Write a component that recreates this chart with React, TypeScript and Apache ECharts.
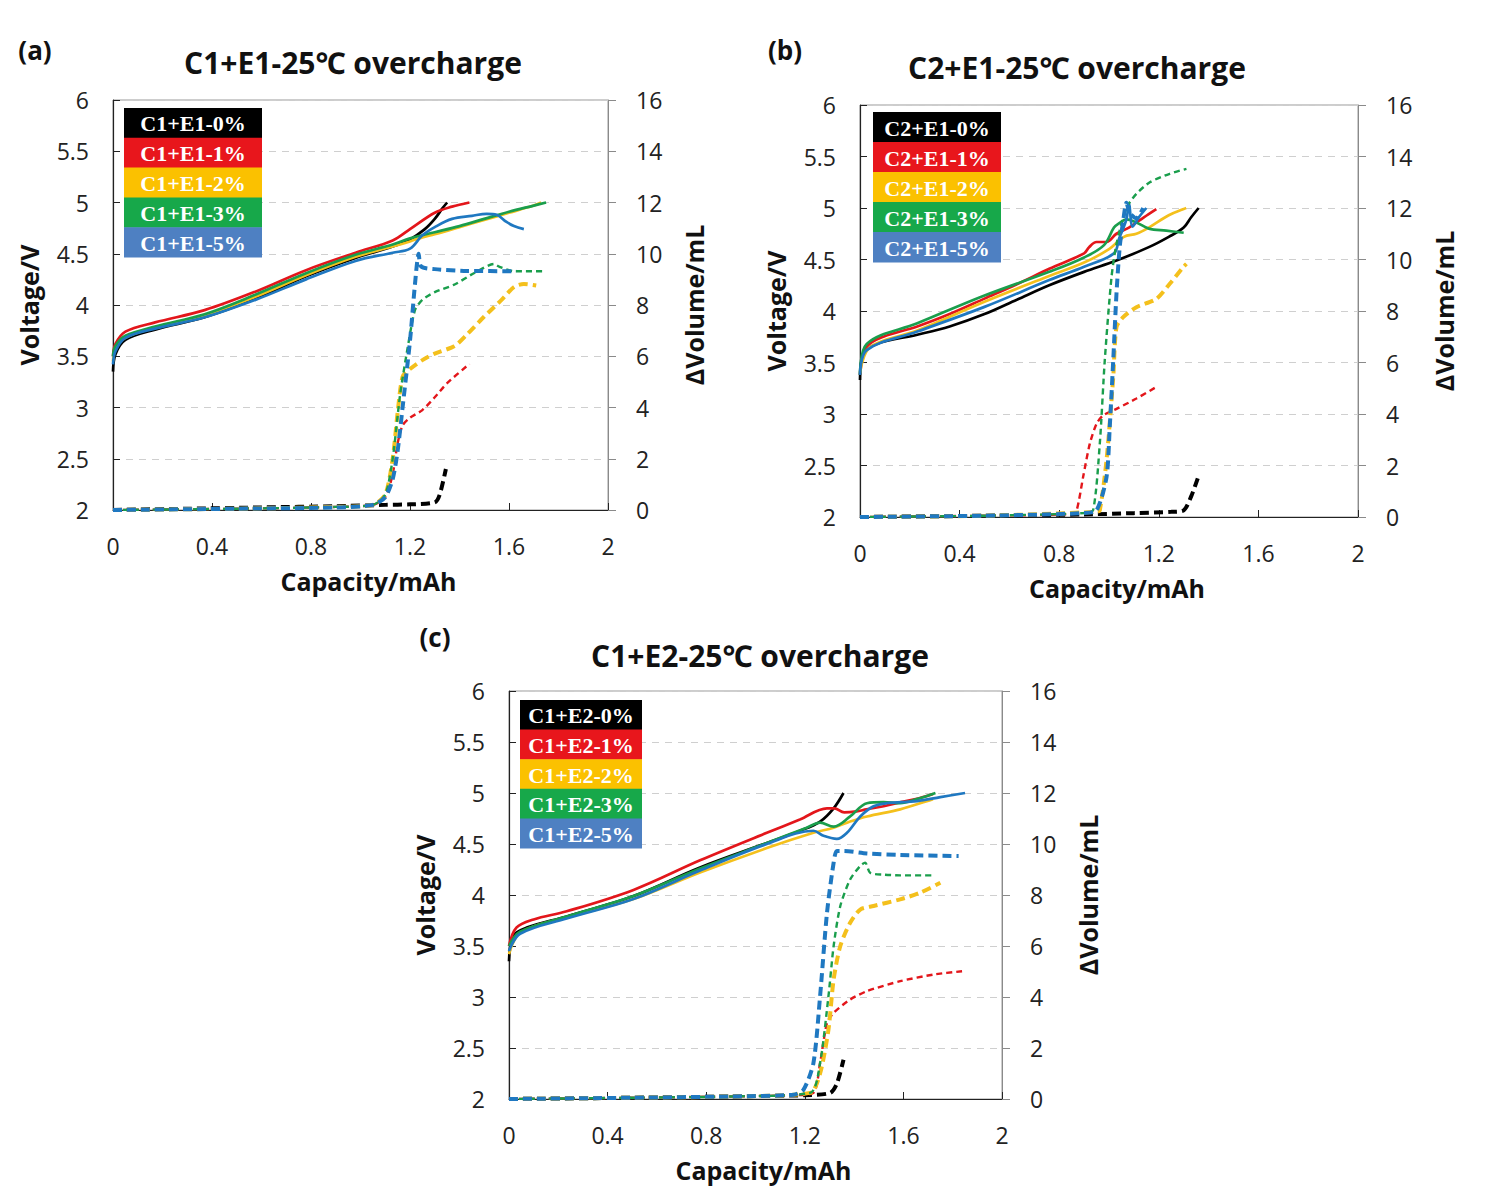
import React, { useEffect, useRef } from "react";
import * as echarts from "echarts";

// ---------- labels ----------
const panelTags = ["(a)", "(b)", "(c)"];
const panelTitles = ["C1+E1-25℃ overcharge", "C2+E1-25℃ overcharge", "C1+E2-25℃ overcharge"];
const legendA = ["C1+E1-0%", "C1+E1-1%", "C1+E1-2%", "C1+E1-3%", "C1+E1-5%"];
const legendB = ["C2+E1-0%", "C2+E1-1%", "C2+E1-2%", "C2+E1-3%", "C2+E1-5%"];
const legendC = ["C1+E2-0%", "C1+E2-1%", "C1+E2-2%", "C1+E2-3%", "C1+E2-5%"];
const xName = "Capacity/mAh";
const yLeftName = "Voltage/V";
const yRightName = "ΔVolume/mL";

// ---------- panel (a) voltage [capacity, V] ----------
const aV0 = [[0, 3.35], [0.01, 3.52], [0.05, 3.66], [0.17, 3.76], [0.37, 3.88], [0.575, 4.06], [0.78, 4.28], [0.98, 4.46], [1.13, 4.57], [1.2, 4.64], [1.26, 4.74], [1.3, 4.84], [1.33, 4.94], [1.35, 5.0]];
const aV1 = [[0, 3.5], [0.01, 3.62], [0.05, 3.74], [0.17, 3.83], [0.37, 3.95], [0.575, 4.13], [0.78, 4.34], [0.98, 4.51], [1.13, 4.63], [1.2, 4.74], [1.3, 4.9], [1.37, 4.96], [1.44, 5.0]];
const aV2 = [[0, 3.45], [0.01, 3.58], [0.05, 3.68], [0.17, 3.78], [0.37, 3.9], [0.575, 4.08], [0.78, 4.29], [0.98, 4.47], [1.13, 4.57], [1.2, 4.62], [1.25, 4.66], [1.3, 4.69], [1.4, 4.76], [1.5, 4.83], [1.6, 4.9], [1.7, 4.97], [1.73, 5.0]];
const aV3 = [[0, 3.5], [0.01, 3.6], [0.05, 3.7], [0.17, 3.79], [0.37, 3.91], [0.575, 4.1], [0.78, 4.31], [0.98, 4.49], [1.13, 4.59], [1.2, 4.65], [1.3, 4.71], [1.4, 4.77], [1.5, 4.84], [1.6, 4.91], [1.7, 4.97], [1.75, 5.0]];
const aV5 = [[0, 3.42], [0.01, 3.55], [0.05, 3.68], [0.17, 3.77], [0.37, 3.88], [0.575, 4.05], [0.78, 4.25], [0.98, 4.43], [1.13, 4.51], [1.2, 4.55], [1.25, 4.68], [1.3, 4.76], [1.37, 4.84], [1.45, 4.87], [1.51, 4.89], [1.55, 4.88], [1.59, 4.81], [1.62, 4.77], [1.66, 4.74]];
// ---------- panel (a) volume [capacity, mL] ----------
const aD0 = [[0, 0], [0.3, 0.05], [0.6, 0.1], [0.9, 0.15], [1.1, 0.2], [1.2, 0.22], [1.3, 0.3], [1.32, 0.6], [1.345, 1.6]];
const aD1 = [[0, 0], [0.5, 0.05], [0.9, 0.12], [1.05, 0.2], [1.1, 0.5], [1.13, 1.4], [1.15, 2.6], [1.17, 3.3], [1.2, 3.6], [1.25, 3.9], [1.3, 4.4], [1.35, 4.95], [1.44, 5.7]];
const aD2 = [[0, 0], [0.5, 0.05], [0.9, 0.12], [1.05, 0.2], [1.1, 0.6], [1.13, 2.0], [1.15, 3.8], [1.17, 5.2], [1.2, 5.5], [1.25, 5.85], [1.3, 6.1], [1.38, 6.4], [1.43, 6.85], [1.5, 7.55], [1.57, 8.2], [1.62, 8.7], [1.66, 8.82], [1.71, 8.76]];
const aD3 = [[0, 0], [0.5, 0.05], [0.9, 0.12], [1.05, 0.2], [1.1, 0.6], [1.13, 2.0], [1.16, 4.5], [1.19, 6.3], [1.22, 7.8], [1.25, 8.2], [1.3, 8.5], [1.38, 8.8], [1.46, 9.25], [1.54, 9.6], [1.56, 9.5], [1.62, 9.32], [1.74, 9.32]];
const aD5 = [[0, 0], [0.5, 0.05], [0.9, 0.1], [1.05, 0.2], [1.1, 0.5], [1.13, 1.2], [1.15, 2.3], [1.17, 4.0], [1.2, 6.6], [1.22, 8.8], [1.235, 10.0], [1.245, 9.5], [1.3, 9.4], [1.43, 9.33], [1.63, 9.32]];

// ---------- panel (b) voltage ----------
const bV0 = [[0, 3.33], [0.013, 3.58], [0.067, 3.68], [0.23, 3.77], [0.36, 3.85], [0.5, 3.97], [0.63, 4.11], [0.76, 4.25], [0.9, 4.38], [1.03, 4.49], [1.16, 4.62], [1.24, 4.72], [1.3, 4.81], [1.33, 4.91], [1.36, 5.0]];
const bV1 = [[0, 3.38], [0.027, 3.65], [0.094, 3.75], [0.23, 3.85], [0.36, 3.97], [0.5, 4.12], [0.63, 4.26], [0.76, 4.41], [0.9, 4.56], [0.92, 4.62], [0.95, 4.67], [0.99, 4.67], [1.03, 4.75], [1.08, 4.81], [1.14, 4.91], [1.19, 4.99]];
const bV2 = [[0, 3.4], [0.04, 3.65], [0.23, 3.81], [0.5, 4.09], [0.76, 4.34], [0.9, 4.47], [1.0, 4.6], [1.06, 4.72], [1.11, 4.75], [1.16, 4.81], [1.24, 4.93], [1.3, 4.99], [1.31, 5.0]];
const bV3 = [[0, 3.38], [0.027, 3.68], [0.23, 3.88], [0.5, 4.15], [0.76, 4.38], [0.9, 4.52], [0.98, 4.64], [1.02, 4.81], [1.04, 4.85], [1.07, 4.89], [1.11, 4.86], [1.16, 4.8], [1.23, 4.78], [1.3, 4.76]];
const bV5 = [[0, 3.38], [0.027, 3.62], [0.23, 3.8], [0.5, 4.04], [0.76, 4.3], [0.9, 4.43], [1.02, 4.56], [1.04, 4.7], [1.07, 4.89], [1.08, 5.04], [1.095, 4.82], [1.12, 4.91], [1.15, 5.0]];
// ---------- panel (b) volume ----------
const bD0 = [[0, 0], [0.5, 0.05], [0.9, 0.1], [1.1, 0.15], [1.25, 0.2], [1.3, 0.26], [1.33, 0.8], [1.36, 1.6]];
const bD1 = [[0, 0], [0.5, 0.05], [0.85, 0.12], [0.87, 0.26], [0.896, 1.55], [0.923, 2.85], [0.95, 3.62], [0.977, 3.95], [1.03, 4.2], [1.11, 4.6], [1.19, 5.05]];
const bD2 = [[0, 0], [0.5, 0.05], [0.95, 0.2], [0.963, 0.26], [0.99, 2.2], [1.017, 5.43], [1.03, 7.37], [1.057, 7.76], [1.11, 8.15], [1.19, 8.47], [1.244, 9.06], [1.298, 9.7], [1.311, 9.83]];
const bD3 = [[0, 0], [0.5, 0.05], [0.9, 0.15], [0.936, 0.26], [0.963, 2.85], [0.983, 6.08], [1.01, 9.31], [1.03, 10.6], [1.07, 12.0], [1.11, 12.55], [1.164, 13.0], [1.244, 13.33], [1.311, 13.52]];
const bD5 = [[0, 0], [0.5, 0.05], [0.9, 0.15], [0.95, 0.26], [0.99, 1.55], [1.003, 3.5], [1.017, 6.08], [1.03, 8.67], [1.043, 10.48], [1.057, 11.5], [1.07, 12.2], [1.084, 11.8], [1.11, 11.6], [1.137, 12.0]];

// ---------- panel (c) voltage ----------
const cV0 = [[0, 3.35], [0.018, 3.6], [0.072, 3.68], [0.234, 3.79], [0.505, 3.99], [0.775, 4.27], [1.046, 4.51], [1.181, 4.63], [1.262, 4.72], [1.317, 4.85], [1.357, 5.0]];
const cV1 = [[0, 3.5], [0.03, 3.68], [0.1, 3.76], [0.234, 3.84], [0.505, 4.05], [0.775, 4.34], [1.046, 4.61], [1.18, 4.74], [1.29, 4.85], [1.32, 4.85], [1.36, 4.81], [1.41, 4.82], [1.45, 4.84], [1.52, 4.87], [1.59, 4.91], [1.65, 4.94], [1.72, 4.99]];
const cV2 = [[0, 3.42], [0.045, 3.63], [0.234, 3.78], [0.505, 3.96], [0.775, 4.22], [1.046, 4.46], [1.235, 4.61], [1.317, 4.66], [1.384, 4.72], [1.452, 4.77], [1.587, 4.84], [1.695, 4.92], [1.72, 4.94]];
const cV3 = [[0, 3.5], [0.045, 3.64], [0.234, 3.79], [0.505, 3.99], [0.775, 4.26], [1.046, 4.51], [1.208, 4.66], [1.262, 4.71], [1.317, 4.67], [1.384, 4.77], [1.452, 4.9], [1.52, 4.91], [1.587, 4.9], [1.655, 4.94], [1.73, 5.0]];
const cV5 = [[0, 3.45], [0.045, 3.62], [0.234, 3.77], [0.505, 3.96], [0.775, 4.24], [1.046, 4.5], [1.235, 4.63], [1.276, 4.58], [1.33, 4.55], [1.371, 4.61], [1.425, 4.77], [1.479, 4.87], [1.533, 4.9], [1.655, 4.92], [1.75, 4.96], [1.85, 5.0]];
// ---------- panel (c) volume ----------
const cD0 = [[0, 0], [0.5, 0.05], [0.9, 0.1], [1.2, 0.15], [1.303, 0.24], [1.33, 0.6], [1.357, 1.54]];
const cD1 = [[0, 0], [0.5, 0.05], [0.9, 0.1], [1.15, 0.15], [1.235, 0.24], [1.262, 1.41], [1.29, 2.98], [1.317, 3.38], [1.384, 3.9], [1.452, 4.23], [1.587, 4.62], [1.722, 4.88], [1.838, 5.01]];
const cD2 = [[0, 0], [0.5, 0.05], [0.9, 0.1], [1.222, 0.24], [1.262, 1.0], [1.296, 2.72], [1.317, 4.69], [1.344, 6.0], [1.384, 6.91], [1.425, 7.43], [1.479, 7.57], [1.587, 7.83], [1.668, 8.09], [1.75, 8.48]];
const cD3 = [[0, 0], [0.5, 0.05], [0.9, 0.1], [1.222, 0.24], [1.262, 1.41], [1.296, 4.03], [1.317, 6.0], [1.344, 7.57], [1.384, 8.61], [1.425, 9.14], [1.445, 9.27], [1.465, 8.87], [1.52, 8.8], [1.587, 8.77], [1.723, 8.77]];
const cD5 = [[0, 0], [0.5, 0.05], [0.9, 0.1], [1.154, 0.17], [1.195, 0.37], [1.235, 1.41], [1.262, 4.03], [1.29, 7.3], [1.317, 9.27], [1.33, 9.73], [1.357, 9.73], [1.452, 9.63], [1.587, 9.57], [1.824, 9.53]];

// ---------- styles ----------
const lineColors = ["#000000", "#e3161b", "#f4c01c", "#1a9e4c", "#1f78c1"];
const legendColors = ["#000000", "#e8161c", "#fbc100", "#17a84a", "#4e80c2"];
const volWidths = [4, 2.4, 4, 2.4, 4];
const volDashes = [[9, 5], [6, 4], [9, 5], [6, 4], [9, 5]];

const panels = [
  {
    volt: [aV0, aV1, aV2, aV3, aV5], vol: [aD0, aD1, aD2, aD3, aD5], names: legendA,
    grid: { left: 113, top: 100, width: 495, height: 410 },
    tag: [35, 50], title: [353, 62], legend: { x: 124, y: 108, w: 138, h: 29.8 },
  },
  {
    volt: [bV0, bV1, bV2, bV3, bV5], vol: [bD0, bD1, bD2, bD3, bD5], names: legendB,
    grid: { left: 860, top: 105, width: 498, height: 412 },
    tag: [785, 50], title: [1077, 67], legend: { x: 873, y: 112, w: 128, h: 30 },
  },
  {
    volt: [cV0, cV1, cV2, cV3, cV5], vol: [cD0, cD1, cD2, cD3, cD5], names: legendC,
    grid: { left: 509, top: 691, width: 493, height: 408 },
    tag: [435, 637], title: [760, 655], legend: { x: 520, y: 700, w: 122, h: 29.6 },
  },
];

const SANS = '"Open Sans", "Noto Sans", sans-serif';

function buildOption() {
  const grid: any[] = [];
  const xAxis: any[] = [];
  const yAxis: any[] = [];
  const series: any[] = [];
  const graphic: any[] = [];

  panels.forEach((p, i) => {
    grid.push({ ...p.grid, show: true, borderColor: "#9a9a9a", borderWidth: 1, containLabel: false });
    xAxis.push({
      type: "value", gridIndex: i, min: 0, max: 2, interval: 0.4,
      name: xName, nameLocation: "middle", nameGap: 58,
      nameTextStyle: { fontFamily: SANS, fontWeight: "bold", fontSize: 25, color: "#111", padding: [0, 0, 0, 16] },
      axisLine: { show: true, onZero: false, lineStyle: { color: "#222", width: 1.2 } },
      axisTick: { show: true, inside: true, length: 7, lineStyle: { color: "#222" } },
      axisLabel: { fontFamily: SANS, fontSize: 23, color: "#222", margin: 24 },
      splitLine: { show: false },
    });
    yAxis.push({
      type: "value", gridIndex: i, position: "left", min: 2, max: 6, interval: 0.5,
      name: yLeftName, nameLocation: "middle", nameGap: 72, nameRotate: 90,
      nameTextStyle: { fontFamily: SANS, fontWeight: "bold", fontSize: 25, color: "#111" },
      axisLine: { show: true, onZero: false, lineStyle: { color: "#222", width: 1.2 } },
      axisTick: { show: true, inside: true, length: 7, lineStyle: { color: "#222" } },
      axisLabel: { fontFamily: SANS, fontSize: 23, color: "#222", margin: 24 },
      splitLine: { show: true, lineStyle: { color: "#cfcfcf", width: 1.2, type: [7, 6] } },
    });
    yAxis.push({
      type: "value", gridIndex: i, position: "right", min: 0, max: 16, interval: 2,
      name: yRightName, nameLocation: "middle", nameGap: 73, nameRotate: 90,
      nameTextStyle: { fontFamily: SANS, fontWeight: "bold", fontSize: 25, color: "#111" },
      axisLine: { show: true, onZero: false, lineStyle: { color: "#8a8a8a", width: 1 } },
      axisTick: { show: true, inside: false, length: 8, lineStyle: { color: "#8a8a8a" } },
      axisLabel: { fontFamily: SANS, fontSize: 23, color: "#222", margin: 28 },
      splitLine: { show: false },
    });

    p.volt.forEach((d, j) => {
      series.push({
        type: "line", name: p.names[j], data: d, xAxisIndex: i, yAxisIndex: 2 * i,
        symbol: "none", smooth: 0.35, silent: true, z: 2,
        lineStyle: { color: lineColors[j], width: 2.7 },
      });
    });
    p.vol.forEach((d, j) => {
      series.push({
        type: "line", name: p.names[j] + " ΔV", data: d, xAxisIndex: i, yAxisIndex: 2 * i + 1,
        symbol: "none", smooth: 0.25, silent: true, z: 3,
        lineStyle: { color: lineColors[j], width: volWidths[j], type: volDashes[j] },
      });
    });

    graphic.push({
      type: "text", x: p.tag[0], y: p.tag[1], z: 50,
      style: { text: panelTags[i], font: `bold 26px ${SANS}`, fill: "#111", align: "center", verticalAlign: "middle" },
    });
    graphic.push({
      type: "text", x: p.title[0], y: p.title[1], z: 50,
      style: { text: panelTitles[i], font: `bold 30px ${SANS}`, fill: "#111", align: "center", verticalAlign: "middle" },
    });
    const L = p.legend;
    p.names.forEach((nm, j) => {
      graphic.push({
        type: "rect", z: 60,
        shape: { x: L.x, y: L.y + j * L.h, width: L.w, height: L.h + 0.5 },
        style: { fill: legendColors[j] },
      });
      graphic.push({
        type: "text", z: 61, x: L.x + L.w / 2, y: L.y + j * L.h + L.h / 2 + 1,
        style: { text: nm, font: 'bold 22px "Liberation Serif", "Times New Roman", serif', fill: "#ffffff", align: "center", verticalAlign: "middle" },
      });
    });
  });

  return { animation: false, backgroundColor: "#ffffff", grid, xAxis, yAxis, series, graphic };
}

export default function App() {
  const ref = useRef<HTMLDivElement>(null);
  useEffect(() => {
    document.body.style.margin = "0";
    if (!ref.current) return;
    const chart = echarts.init(ref.current, undefined, { renderer: "svg" });
    chart.setOption(buildOption());
    return () => chart.dispose();
  }, []);
  return <div ref={ref} style={{ width: 1500, height: 1200 }} />;
}
